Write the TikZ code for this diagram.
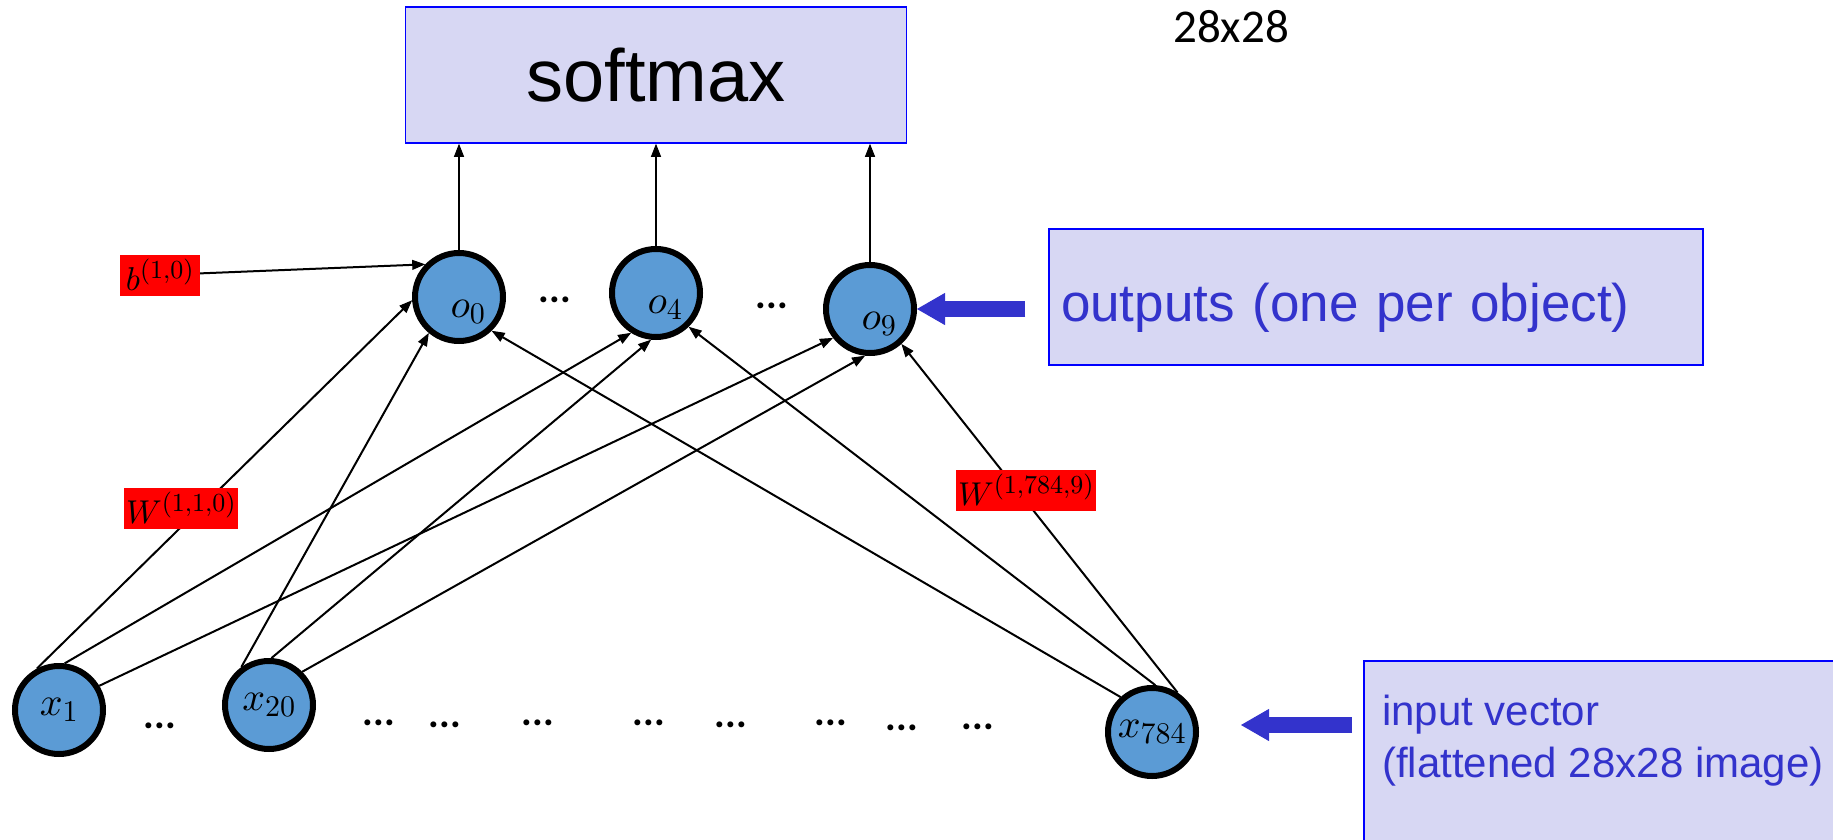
\documentclass[tikz,border=0pt]{standalone}
\usepackage[no-math]{fontspec}
\setmainfont{Liberation Sans}
\newfontfamily\calibri{Carlito}
\usetikzlibrary{arrows.meta}
\usetikzlibrary{calc}
% scalable math fonts
\DeclareFontShape{OT1}{cmr}{m}{n}{<->cmr10}{}
\DeclareFontShape{OML}{cmm}{m}{it}{<->cmmi10}{}
\DeclareFontShape{OMS}{cmsy}{m}{n}{<->cmsy10}{}
\DeclareMathSizes{40}{40}{30}{22}
\DeclareMathSizes{33}{33}{26}{20}
\definecolor{nodeblue}{RGB}{91,155,213}
\definecolor{boxfill}{RGB}{215,215,243}
\definecolor{boxtext}{RGB}{51,51,204}
\tikzset{
  neuron/.style={circle,draw=black,line width=6pt,fill=nodeblue,minimum size=88pt,inner sep=0pt,font=\fontsize{40}{48}\selectfont},
  outneuron/.style={neuron,text height=46pt,text depth=6pt,execute at begin node=\hspace*{18pt}},
  conn/.style={line width=2pt,-{Triangle[length=13pt,width=10pt,line width=1pt]}},
  wbox/.style={fill=red,inner sep=2pt,minimum height=41pt,font=\fontsize{33}{40}\selectfont},
  infobox/.style={draw=blue,line width=1.5pt,fill=boxfill},
  bigarrow/.style={draw=boxtext,line width=16pt,-{Triangle[length=28pt,width=32pt,line width=1pt]}},
  dotsnode/.style={font=\calibri\bfseries\fontsize{40}{48}\selectfont,inner sep=0pt}
}

\begin{document}
\begin{tikzpicture}[x=1pt,y=-1pt]
  \useasboundingbox (0,0) rectangle (1833,840);
  % outputs
  \node[infobox,minimum width=501pt,minimum height=136pt,font=\fontsize{74}{80}\selectfont] (softmax) at (656,75) {softmax};
  \node[font=\calibri\fontsize{47}{56}\selectfont] (imgsize) at (1231,27) {28x28};
  \node[outneuron] (o0) at (459,297) {$o_0$};
  \node[outneuron] (o4) at (656,293) {$o_4$};
  \node[outneuron] (o9) at (870,309) {$o_9$};
  % inputs
  \node[neuron] (x1) at (59,710) {$x_1$};
  \node[neuron] (x20) at (269,705) {$x_{20}$};
  \node[neuron] (x784) at (1152,732) {$x_{784}$};
  \foreach \px/\py [count=\i] in {555/300,772/306,160/726,379/723,445/725,538/723,649/723,731/725,831/723,902/728,978/727}
    \node[dotsnode] (dots\i) at (\px,\py) {...};
  % connections
  \foreach \o in {o0,o4,o9}
    \draw[conn] (\o) -- (\o |- softmax.south);
  \draw[conn] (x1.118) -- (o0.184);
  \draw[conn] (x1.83) -- (o4.238);
  \draw[conn] (x1.31) -- (o9.218);
  \draw[conn] (x20.126) -- (o0.230);
  \draw[conn] (x20.87) -- (o4.264);
  \draw[conn] (x20.45) -- (o9.264);
  \draw[conn] (x784.132) -- (o0.314);
  \draw[conn] (x784.86) -- (o4.314);
  \draw[conn] (x784.57) -- (o9.312);
  % weights and bias
  \node[wbox,minimum width=80pt] (b10) at (160,275) {$b^{(1,0)}$};
  \draw[conn] (b10) -- (o0.136);
  \node[wbox,minimum width=113pt] (w110) at (181,508) {$W^{(1,1,0)}$};
  \node[wbox,minimum width=139pt] (w7849) at (1026,490) {$W^{(1,784,9)}$};
  % side notes
  \node[infobox,minimum width=654pt,minimum height=136pt,inner xsep=12pt,text width=630pt,align=left,
        text height=59pt,text depth=11pt,text=boxtext,font=\fontsize{53}{64}\selectfont] (outbox) at (1376,297) {outputs (one per object)};
  \draw[bigarrow,shorten <=23pt] (outbox.west |- o9.east) -- (o9.east);
  \node[infobox,minimum width=500pt,minimum height=200pt,anchor=north west] (inbox) at (1363,660) {};
  \node[text=boxtext,font=\fontsize{42}{52}\selectfont,align=left,anchor=north west,inner sep=0pt] (intext) at (1382,695) {input vector\\(flattened 28x28 image)};
  \draw[bigarrow,shorten <=11pt,shorten >=42pt] ($(inbox.west |- x784.east)+(0,-7)$) -- ($(x784.east)+(0,-7)$);
\end{tikzpicture}
\end{document}
